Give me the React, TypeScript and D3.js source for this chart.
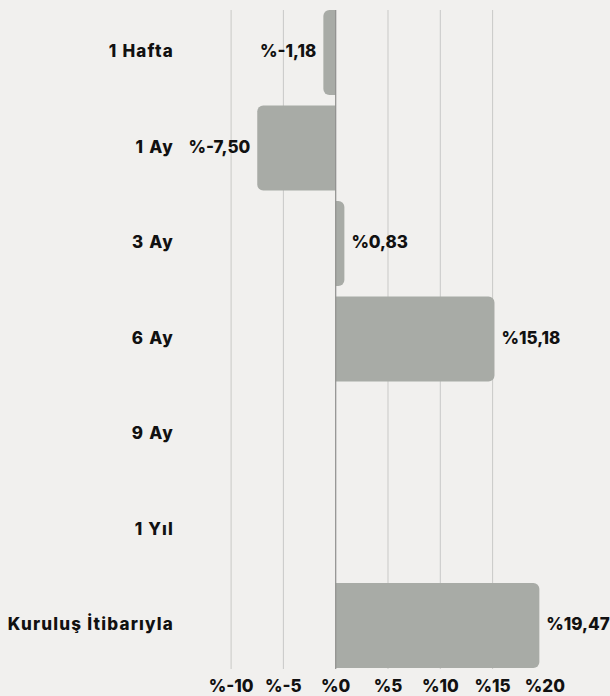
import React from "react";
import * as d3 from "d3";

const WIDTH = 610;
const HEIGHT = 696;
const MARGINS = { LEFT: 180, TOP: 10, BOTTOM: 28 };

const categories = ["1 Hafta", "1 Ay", "3 Ay", "6 Ay", "9 Ay", "1 Yıl", "Kuruluş İtibarıyla"];
const values: (number | null)[] = [-1.18, -7.5, 0.83, 15.18, null, null, 19.47];
const tickValues = [-10, -5, 0, 5, 10, 15, 20];
const gridValues = [-10, -5, 5, 10, 15];

const FONT = "Inter, 'Noto Sans', sans-serif";
const FONT_SIZE = 17;
const BAR = "#a8aba6";
const BG = "#f1f0ee";

const fmt = (v: number) => "%" + d3.format(".2f")(v).replace(".", ",").replace("−", "-");

// bar rounded only on the value end
function barPath(x0: number, x1: number, y: number, h: number, r: number) {
  const w = Math.abs(x1 - x0);
  const rr = Math.min(r, w, h / 2);
  const p = d3.path();
  if (x1 >= x0) {
    p.moveTo(x0, y);
    p.lineTo(x1 - rr, y);
    p.arcTo(x1, y, x1, y + rr, rr);
    p.lineTo(x1, y + h - rr);
    p.arcTo(x1, y + h, x1 - rr, y + h, rr);
    p.lineTo(x0, y + h);
  } else {
    p.moveTo(x0, y);
    p.lineTo(x1 + rr, y);
    p.arcTo(x1, y, x1, y + rr, rr);
    p.lineTo(x1, y + h - rr);
    p.arcTo(x1, y + h, x1 + rr, y + h, rr);
    p.lineTo(x0, y + h);
  }
  p.closePath();
  return p.toString();
}

export default function App() {
  const x = d3.scaleLinear().domain([0, 5]).range([335.7, 388]);
  const y = d3
    .scaleBand<string>()
    .domain(categories)
    .range([MARGINS.TOP, HEIGHT - MARGINS.BOTTOM])
    .paddingInner(0.11)
    .paddingOuter(0);
  const gridTop = MARGINS.TOP;
  const gridBottom = HEIGHT - MARGINS.BOTTOM + 1;

  return (
    <svg
      width={WIDTH}
      height={HEIGHT}
      style={{ position: "absolute", left: 0, top: 0, background: BG }}
      fontFamily={FONT}
    >
      <rect width={WIDTH} height={HEIGHT} fill={BG} />
      {gridValues.map((t) => (
        <line key={t} x1={x(t)} x2={x(t)} y1={gridTop} y2={gridBottom} stroke="#c9c9c7" strokeWidth={1} />
      ))}
      {categories.map((c, i) => {
        const v = values[i];
        const by = y(c)!;
        const bh = y.bandwidth();
        return (
          <g key={c}>
            <text
              x={MARGINS.LEFT - 6}
              y={by + bh / 2}
              textAnchor="end"
              dominantBaseline="middle"
              fontSize={FONT_SIZE}
              fontWeight={800}
              letterSpacing={1.2}
              fill="#111"
            >
              {c}
            </text>
            {v !== null && (
              <>
                <path d={barPath(x(0), x(v), by, bh, 6)} fill={BAR} />
                <text
                  x={v < 0 ? x(v) - 7 : x(v) + 7}
                  y={by + bh / 2}
                  textAnchor={v < 0 ? "end" : "start"}
                  dominantBaseline="middle"
                  fontSize={FONT_SIZE}
                  fontWeight={800}
                  fill="#111"
                >
                  {fmt(v)}
                </text>
              </>
            )}
          </g>
        );
      })}
      <line x1={x(0)} x2={x(0)} y1={gridTop} y2={gridBottom} stroke="#8e8e8c" strokeWidth={1.2} />
      {tickValues.map((t) => (
        <text
          key={t}
          x={x(t)}
          y={HEIGHT - 4}
          textAnchor="middle"
          fontSize={FONT_SIZE}
          fontWeight={800}
          fill="#111"
        >
          {"%" + t}
        </text>
      ))}
    </svg>
  );
}
